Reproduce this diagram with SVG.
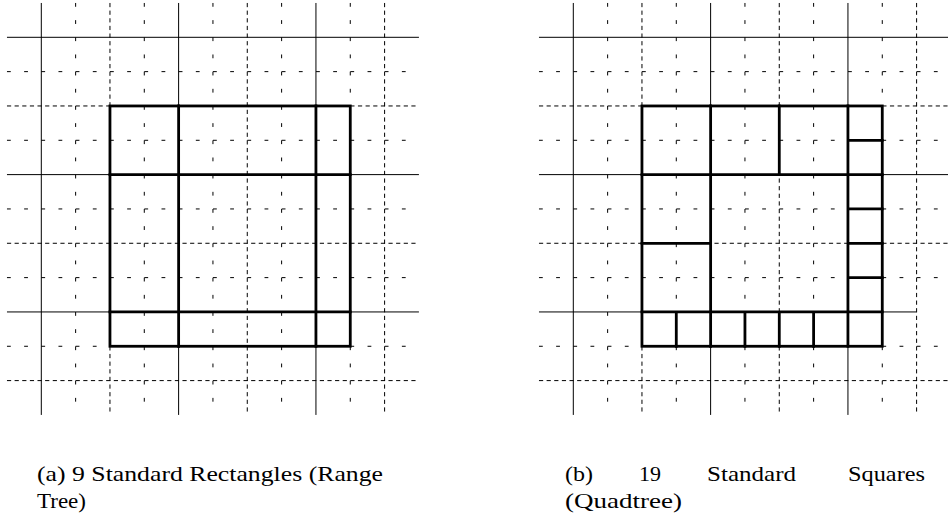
<svg xmlns="http://www.w3.org/2000/svg" xmlns:xlink="http://www.w3.org/1999/xlink" width="948" height="521" viewBox="0 0 948 521">
<style>
.solid{stroke:#000;stroke-width:1;fill:none}
.l2{stroke:#000;stroke-width:1;fill:none;stroke-dasharray:4.2 3.43}
.l3{stroke:#000;stroke-width:1;fill:none;stroke-dasharray:3.8 13.37}
.thick{stroke:#000;stroke-width:2.8;fill:none;stroke-linecap:square}
.cap{font-family:'Liberation Serif','DejaVu Serif',serif;font-size:22px;fill:#000}
</style>
<defs>
<g id="grid">
<path class="l3" d="M75.63,2.97V414.93M144.29,2.97V414.93M212.95,2.97V414.93M281.61,2.97V414.93M350.27,2.97V414.93M6.97,71.63H418.93M6.97,140.29H418.93M6.97,208.95H418.93M6.97,277.61H418.93M6.97,346.27H418.93"/>
<path class="l2" d="M109.96,2.97V414.93M247.28,2.97V414.93M384.6,2.97V414.93M6.97,105.96H418.93M6.97,243.28H418.93M6.97,380.6H418.93"/>
<path class="solid" d="M41.3,2.97V414.93M178.62,2.97V414.93M315.94,2.97V414.93M6.97,37.3H418.93M6.97,174.62H418.93"/>
</g>
</defs>
<g id="panel-a">
<use xlink:href="#grid"/>
<path class="solid" d="M6.97,311.94H418.93"/>
<g id="rectangles-a">
<rect class="thick" x="109.96" y="105.96" width="240.31" height="240.31"/>
<path class="thick" d="M178.62,105.96V346.27M315.94,105.96V346.27M109.96,174.62H350.27M109.96,311.94H350.27"/>
</g>
</g>
<g id="panel-b">
<use xlink:href="#grid" transform="translate(532,0)"/>
<path class="solid" d="M538.97,311.94H916.6"/>
<g id="squares-b">
<rect class="thick" x="641.96" y="105.96" width="240.31" height="240.31"/>
<path class="thick" d="M710.62,105.96V346.27M847.94,105.96V346.27M779.28,105.96V174.62M641.96,174.62H882.27M641.96,311.94H882.27M641.96,243.28H710.62M847.94,140.29H882.27M847.94,208.95H882.27M847.94,243.28H882.27M847.94,277.61H882.27M676.29,311.94V346.27M744.95,311.94V346.27M779.28,311.94V346.27M813.61,311.94V346.27"/>
</g>
</g>
<g id="captions">
<text class="cap" x="37" y="481" textLength="346" lengthAdjust="spacingAndGlyphs">(a) 9 Standard Rectangles (Range</text>
<text class="cap" x="37" y="508" textLength="49" lengthAdjust="spacingAndGlyphs">Tree)</text>
<text class="cap" x="565" y="481" textLength="28" lengthAdjust="spacingAndGlyphs">(b)</text>
<text class="cap" x="639" y="481" textLength="22" lengthAdjust="spacingAndGlyphs">19</text>
<text class="cap" x="707" y="481" textLength="89" lengthAdjust="spacingAndGlyphs">Standard</text>
<text class="cap" x="848" y="481" textLength="77" lengthAdjust="spacingAndGlyphs">Squares</text>
<text class="cap" x="565" y="508" textLength="117" lengthAdjust="spacingAndGlyphs">(Quadtree)</text>
</g>
</svg>
